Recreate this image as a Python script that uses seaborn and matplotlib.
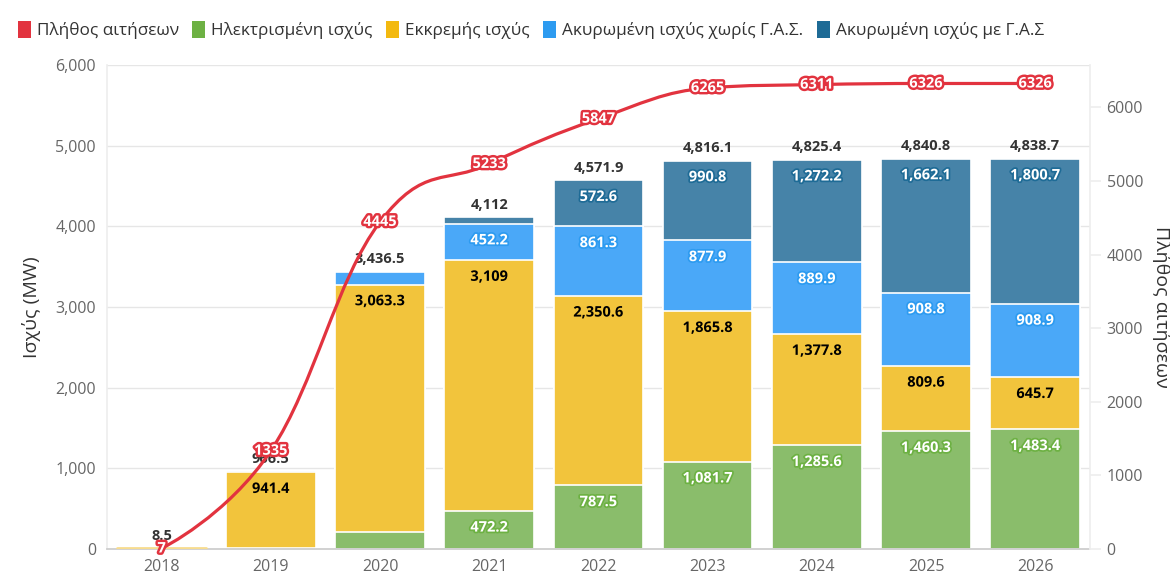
import numpy as np
import pandas as pd
import matplotlib.pyplot as plt
import matplotlib.patheffects as pe
from matplotlib.path import Path
from matplotlib.patches import PathPatch, Patch
from matplotlib.ticker import FuncFormatter, MultipleLocator
import seaborn as sns

years = ["2018", "2019", "2020", "2021", "2022", "2023", "2024", "2025", "2026"]
electrified = [0, 10, 215, 472.2, 787.5, 1081.7, 1285.6, 1460.3, 1483.4]
pending = [8.5, 941.4, 3063.3, 3109, 2350.6, 1865.8, 1377.8, 809.6, 645.7]
cancelled_no_gas = [0, 15.1, 158.2, 452.2, 861.3, 877.9, 889.9, 908.8, 908.9]
cancelled_gas = [0, 0, 0, 78.6, 572.6, 990.8, 1272.2, 1662.1, 1800.7]
totals = [8.5, 966.5, 3436.5, 4112, 4571.9, 4816.1, 4825.4, 4840.8, 4838.7]
applications = [7, 1335, 4445, 5233, 5847, 6265, 6311, 6326, 6326]

names = ["Πλήθος αιτήσεων", "Ηλεκτρισμένη ισχύς", "Εκκρεμής ισχύς",
         "Ακυρωμένη ισχύς χωρίς Γ.Α.Σ.", "Ακυρωμένη ισχύς με Γ.Α.Σ"]
legend_colors = ["#e2333f", "#6db143", "#f3b90f", "#2d9bf0", "#1e6b96"]
bar_colors = ["#8abd6b", "#f2c43c", "#4aa8f8", "#4683a8"]
outline_colors = ["#6db143", "#f2c43c", "#2d9bf0", "#1e6b96"]
text_colors = ["white", "black", "white", "white"]

sns.set_theme(style="white")
plt.rcParams["font.family"] = ["Open Sans", "DejaVu Sans"]

df = pd.DataFrame({"year": years, "g": electrified, "p": pending,
                   "lb": cancelled_no_gas, "db": cancelled_gas})
layers = ["g", "p", "lb", "db"]
cum = df[layers].cumsum(axis=1)

fig = plt.figure(figsize=(11.7, 5.76), dpi=100)
ax = fig.add_axes([0.0915, 0.0469, 0.84, 0.8401])

# stacked bars: draw cumulative heights from top layer down
for i in range(3, -1, -1):
    sns.barplot(x=df["year"], y=cum[layers[i]], color=bar_colors[i], saturation=1,
                width=0.82, edgecolor="white", linewidth=1.2, ax=ax, zorder=2)
# thin pending sliver of 2018
ax.plot([-0.41, 0.41], [pending[0], pending[0]], color="#f7dc8f", lw=2, zorder=3)

ax.set_xlim(-0.5, 8.5)
ax.set_ylim(0, 6000)
ax.yaxis.set_major_locator(MultipleLocator(1000))
ax.yaxis.set_major_formatter(FuncFormatter(lambda v, p: f"{v:,.0f}"))
ax.grid(axis="y", color="#e6e6e6", linewidth=1, zorder=0)
ax.set_axisbelow(True)
ax.set_xlabel("")
ax.set_ylabel("Ισχύς (MW)", fontsize=14, color="#333333", labelpad=10)
ax.tick_params(axis="both", labelsize=11.5, colors="#666666")
ax.tick_params(axis="x", length=5, color="#cccccc", pad=2)
ax.tick_params(axis="y", length=0, pad=8)
for s in ax.spines.values():
    s.set_visible(False)
ax.spines["bottom"].set_visible(True)
ax.spines["bottom"].set_color("#cccccc")
ax.spines["left"].set_visible(True)
ax.spines["left"].set_color("#eeeeee")

# segment labels
for i, key in enumerate(layers):
    for j in range(len(years)):
        v = df[key][j]
        if v < 300:
            continue
        top = cum[key][j]
        lbl = f"{v:,.0f}" if v == int(v) else f"{v:,.1f}"
        t = ax.annotate(lbl, (j, top), xytext=(0, -12), textcoords="offset points",
                        ha="center", va="center", fontsize=10.5, fontweight="bold",
                        color=text_colors[i], zorder=5)
        t.set_path_effects([pe.withStroke(linewidth=2.5, foreground=outline_colors[i])])

# total labels
for j, tot in enumerate(totals):
    lbl = f"{tot:,.1f}" if tot != int(tot) else f"{tot:,.0f}"
    ax.annotate(lbl, (j, tot), xytext=(0, 9), textcoords="offset points",
                ha="center", va="center", fontsize=10.5, fontweight="bold",
                color="#333333", zorder=5)

# right axis: applications (spline)
ax2 = ax.twinx()
ax2.set_ylim(0, 6576)
ax2.set_yticks(range(0, 7000, 1000))
ax2.tick_params(axis="y", labelsize=11.5, colors="#666666", length=8, color="#eeeeee", pad=4)
ax2.set_ylabel("Πλήθος αιτήσεων", fontsize=14, color="#333333", rotation=270, labelpad=20)
for s in ax2.spines.values():
    s.set_visible(False)
ax2.spines["right"].set_visible(True)
ax2.spines["right"].set_color("#eeeeee")

xs = np.arange(len(applications), dtype=float)
ys = np.array(applications, dtype=float)
sm, den = 1.5, 2.5
lc = [(x, y) for x, y in zip(xs, ys)]
rc = [(x, y) for x, y in zip(xs, ys)]
for i in range(1, len(xs) - 1):
    x, y = xs[i], ys[i]
    lx, ly, nx, ny = xs[i - 1], ys[i - 1], xs[i + 1], ys[i + 1]
    lcx, lcy = (sm * x + lx) / den, (sm * y + ly) / den
    rcx, rcy = (sm * x + nx) / den, (sm * y + ny) / den
    corr = ((rcy - lcy) * (rcx - x)) / (rcx - lcx) + y - rcy
    lcy += corr
    rcy += corr
    if lcy > ly and lcy > y:
        lcy = max(ly, y); rcy = 2 * y - lcy
    elif lcy < ly and lcy < y:
        lcy = min(ly, y); rcy = 2 * y - lcy
    if rcy > ny and rcy > y:
        rcy = max(ny, y); lcy = 2 * y - rcy
    elif rcy < ny and rcy < y:
        rcy = min(ny, y); lcy = 2 * y - rcy
    lc[i] = (lcx, lcy)
    rc[i] = (rcx, rcy)
verts = [(xs[0], ys[0])]
codes = [Path.MOVETO]
for i in range(1, len(xs)):
    verts += [rc[i - 1], lc[i], (xs[i], ys[i])]
    codes += [Path.CURVE4] * 3
ax2.add_patch(PathPatch(Path(verts, codes), facecolor="none", edgecolor="#e2333f",
                        linewidth=2.3, zorder=6, capstyle="round"))

for j, v in enumerate(applications):
    t = ax2.text(j, v, f"{v}", ha="center", va="center", fontsize=10.5,
                 fontweight="bold", color="white", zorder=7)
    t.set_path_effects([pe.withStroke(linewidth=3.5, foreground="#e2333f")])

handles = [Patch(facecolor=c, edgecolor="none") for c in legend_colors]
fig.legend(handles, names, loc="upper left", bbox_to_anchor=(0.002, 0.99), ncol=5,
           frameon=False, fontsize=12.3, handlelength=0.75, handleheight=1.1,
           handletextpad=0.35, columnspacing=0.8, labelcolor="#333333")

fig.savefig("out.png", dpi=100)
